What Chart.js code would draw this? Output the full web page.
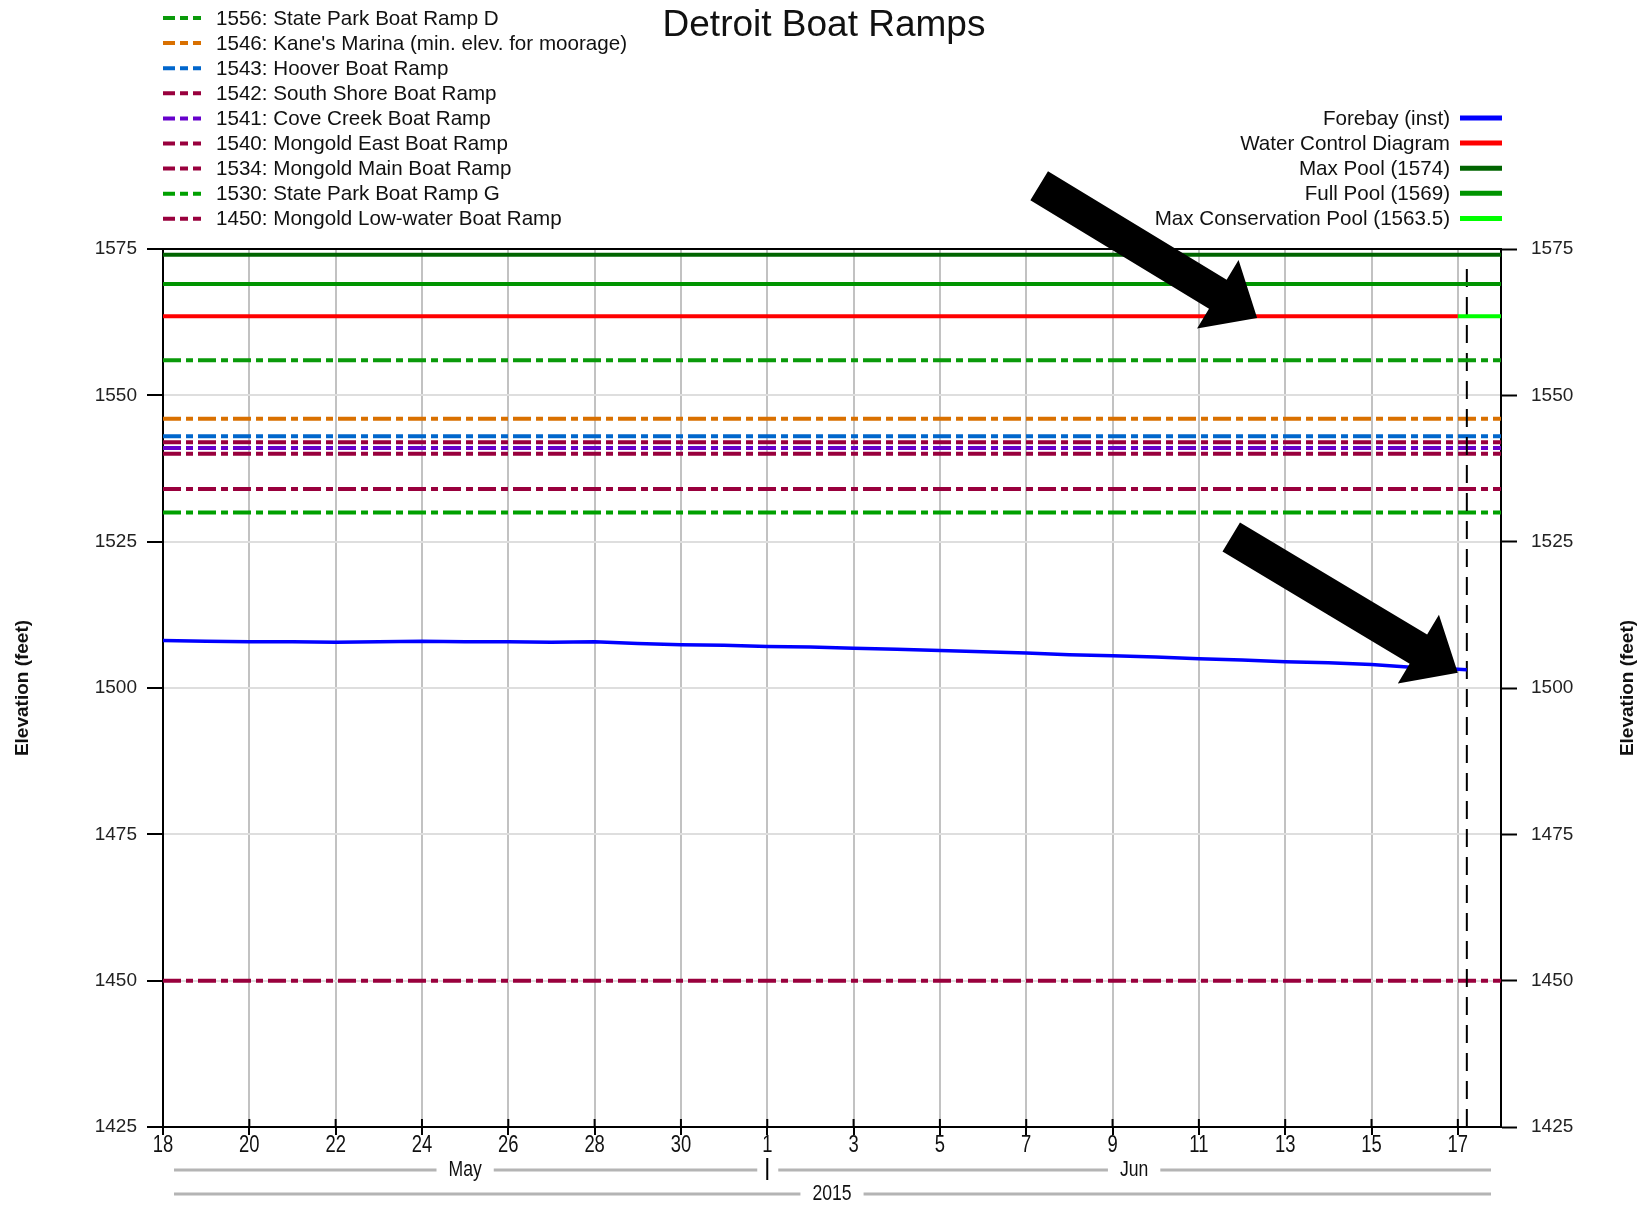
<!DOCTYPE html>
<html>
<head>
<meta charset="utf-8">
<title>Detroit Boat Ramps</title>
<script src="https://cdn.jsdelivr.net/npm/chart.js@4.4.0/dist/chart.umd.min.js"></script>
<style>
  body { margin: 0; background: #fff; }
</style>
</head>
<body>
<canvas id="chart" width="1649" height="1206"></canvas>
<script>
// ---- data ----
var startDate = '2015-05-18';
var endDate = '2015-06-18';
var nowDate = '2015-06-17T05:00';
var wcdChangeDate = '2015-06-17';

var forebayDates = ['2015-05-18','2015-05-19','2015-05-20','2015-05-21','2015-05-22','2015-05-23',
  '2015-05-24','2015-05-25','2015-05-26','2015-05-27','2015-05-28','2015-05-29','2015-05-30',
  '2015-05-31','2015-06-01','2015-06-02','2015-06-03','2015-06-04','2015-06-05','2015-06-06',
  '2015-06-07','2015-06-08','2015-06-09','2015-06-10','2015-06-11','2015-06-12','2015-06-13',
  '2015-06-14','2015-06-15','2015-06-16','2015-06-17','2015-06-17T05:00'];
var forebayValues = [1508.1,1508.0,1507.9,1507.9,1507.8,1507.9,1508.0,1507.9,1507.9,1507.8,
  1507.9,1507.6,1507.4,1507.3,1507.1,1507.0,1506.8,1506.6,1506.4,1506.2,1506.0,1505.7,1505.5,
  1505.3,1505.0,1504.8,1504.5,1504.3,1504.0,1503.5,1503.2,1503.1];

var rampLevels = [1556, 1546, 1543, 1542, 1541, 1540, 1534, 1530, 1450];
var rampNames = ['State Park Boat Ramp D', "Kane's Marina (min. elev. for moorage)", 'Hoover Boat Ramp',
  'South Shore Boat Ramp', 'Cove Creek Boat Ramp', 'Mongold East Boat Ramp', 'Mongold Main Boat Ramp',
  'State Park Boat Ramp G', 'Mongold Low-water Boat Ramp'];
var rampColors = ['#0a9a0a', '#d97000', '#0066cc', '#99003d', '#6600cc', '#99003d', '#99003d', '#00a000', '#99003d'];

var maxPool = 1574;
var fullPool = 1569;
var maxConservation = 1563.5;

var yTicks = [1425, 1450, 1475, 1500, 1525, 1550, 1575];

// ---- helpers ----
var DAY = 86400000;
var t0 = Date.parse(startDate + 'T00:00Z');
function dayOf(s) {
  if (s.length === 10) s += 'T00:00';
  return (Date.parse(s + 'Z') - t0) / DAY;
}
var xMax = dayOf(endDate);
var nowX = dayOf(nowDate);
var wcdX = dayOf(wcdChangeDate);

function flat(level, a, b) {
  return [{ x: a, y: level }, { x: b, y: level }];
}

var datasets = [];
for (var i = rampLevels.length - 1; i >= 0; i--) {
  datasets.push({
    label: rampLevels[i] + ': ' + rampNames[i],
    group: 'ramp', order: i,
    data: flat(rampLevels[i], 0, xMax),
    borderColor: rampColors[i], borderWidth: 4, borderDash: [18, 5, 7, 5]
  });
}
datasets.push({ label: 'Max Pool (1574)', group: 'pool', data: flat(maxPool, 0, xMax), borderColor: '#006400', borderWidth: 4 });
datasets.push({ label: 'Full Pool (1569)', group: 'pool', data: flat(fullPool, 0, xMax), borderColor: '#009400', borderWidth: 4 });
datasets.push({ label: 'Water Control Diagram', group: 'pool', data: flat(maxConservation, 0, wcdX), borderColor: '#ff0000', borderWidth: 4 });
datasets.push({ label: 'Max Conservation Pool (1563.5)', group: 'pool', data: flat(maxConservation, wcdX, xMax), borderColor: '#00ff00', borderWidth: 4 });
datasets.push({
  label: 'Forebay (inst)', group: 'pool',
  data: forebayDates.map(function (d, k) { return { x: dayOf(d), y: forebayValues[k] }; }),
  borderColor: '#0000ff', borderWidth: 3.5
});
datasets.push({
  label: 'now', group: 'none',
  data: [{ x: nowX, y: yTicks[0] }, { x: nowX, y: yTicks[yTicks.length - 1] - 2 }],
  borderColor: '#000', borderWidth: 2, borderDash: [18, 10]
});

var rightLegend = ['Forebay (inst)', 'Water Control Diagram', 'Max Pool (1574)', 'Full Pool (1569)', 'Max Conservation Pool (1563.5)'];

// arrows, in data units: [tailX, tailY, tipX, tipY]
var arrows = [[20.3, 1585.8, 25.35, 1563.2], [24.75, 1525.8, 30.0, 1502.6]];

var FONT = '"Liberation Sans", Arial, sans-serif';

function drawArrow(ctx, x1, y1, x2, y2) {
  var dx = x2 - x1, dy = y2 - y1, len = Math.hypot(dx, dy);
  var ux = dx / len, uy = dy / len, nx = -uy, ny = ux;
  var sw = 17, hw = 40, hl = 46;
  var bx = x2 - ux * hl, by = y2 - uy * hl;
  ctx.beginPath();
  ctx.moveTo(x1 + nx * sw, y1 + ny * sw);
  ctx.lineTo(bx + nx * sw, by + ny * sw);
  ctx.lineTo(bx + nx * hw, by + ny * hw);
  ctx.lineTo(x2, y2);
  ctx.lineTo(bx - nx * hw, by - ny * hw);
  ctx.lineTo(bx - nx * sw, by - ny * sw);
  ctx.lineTo(x1 - nx * sw, y1 - ny * sw);
  ctx.closePath();
  ctx.fillStyle = '#000';
  ctx.fill();
}

// narrow text: regular font squeezed horizontally
function narrowText(ctx, text, x, y) {
  ctx.save();
  ctx.translate(x, y);
  ctx.scale(0.8, 1);
  ctx.fillText(text, 0, 0);
  ctx.restore();
}

var decor = {
  id: 'decor',
  beforeDraw: function (chart) {
    var ctx = chart.ctx;
    ctx.save();
    ctx.fillStyle = '#fff';
    ctx.fillRect(0, 0, chart.width, chart.height);
    ctx.restore();
  },
  afterDraw: function (chart) {
    var ctx = chart.ctx, a = chart.chartArea;
    var xs = chart.scales.x, ys = chart.scales.y;
    ctx.save();

    // top frame
    ctx.strokeStyle = '#000';
    ctx.lineWidth = 2;
    ctx.beginPath();
    ctx.moveTo(a.left, a.top);
    ctx.lineTo(a.right, a.top);
    ctx.stroke();

    // x ticks crossing the axis + narrow labels
    ctx.fillStyle = '#111';
    ctx.font = '23px ' + FONT;
    ctx.textAlign = 'center';
    ctx.textBaseline = 'middle';
    xs.ticks.forEach(function (t) {
      var px = xs.getPixelForValue(t.value);
      ctx.beginPath(); ctx.moveTo(px, a.bottom - 8); ctx.lineTo(px, a.bottom); ctx.stroke();
      narrowText(ctx, String(new Date(t0 + t.value * DAY).getUTCDate()), px, 1146);
    });

    // title
    ctx.fillStyle = '#111';
    ctx.font = '37px ' + FONT;
    ctx.textAlign = 'center';
    ctx.fillText('Detroit Boat Ramps', 824, 26);

    // left legend (ramps)
    ctx.font = '20.6px ' + FONT;
    ctx.textAlign = 'left';
    var ds = chart.data.datasets;
    for (var i = 0; i < rampLevels.length; i++) {
      var d = ds.filter(function (q) { return q.group === 'ramp' && q.order === i; })[0];
      var y = 18 + i * 25.1;
      ctx.strokeStyle = d.borderColor;
      ctx.lineWidth = 4;
      ctx.setLineDash([12, 5, 8, 5, 8]);
      ctx.beginPath(); ctx.moveTo(163, y); ctx.lineTo(205, y); ctx.stroke();
      ctx.setLineDash([]);
      ctx.fillStyle = '#111';
      ctx.fillText(d.label, 216, y + 1);
    }

    // right legend
    ctx.textAlign = 'right';
    rightLegend.forEach(function (lab, k) {
      var d = ds.filter(function (q) { return q.label === lab; })[0];
      var y = 118 + k * 25.1;
      ctx.strokeStyle = d.borderColor;
      ctx.lineWidth = 5;
      ctx.beginPath(); ctx.moveTo(1460, y); ctx.lineTo(1502, y); ctx.stroke();
      ctx.fillStyle = '#111';
      ctx.fillText(lab, 1450, y + 1);
    });

    // axis titles
    ctx.font = 'bold 19px ' + FONT;
    ctx.textAlign = 'center';
    [23, 1628].forEach(function (x) {
      ctx.save();
      ctx.translate(x, 688);
      ctx.rotate(-Math.PI / 2);
      ctx.fillText('Elevation (feet)', 0, 0);
      ctx.restore();
    });

    // month and year rows
    ctx.font = '22px ' + FONT;
    function band(x1, x2, y, text) {
      var cx = (x1 + x2) / 2;
      var w = ctx.measureText(text).width * 0.8;
      ctx.fillStyle = '#111';
      narrowText(ctx, text, cx, y);
      ctx.strokeStyle = '#b4b4b4';
      ctx.lineWidth = 3;
      ctx.beginPath();
      ctx.moveTo(x1 + 11, y); ctx.lineTo(cx - w / 2 - 12, y);
      ctx.moveTo(cx + w / 2 + 12, y); ctx.lineTo(x2 - 10, y);
      ctx.stroke();
    }
    var jun1 = xs.getPixelForValue(dayOf('2015-06-01'));
    band(a.left, jun1, 1170, 'May');
    band(jun1, a.right, 1170, 'Jun');
    band(a.left, a.right, 1194, '2015');
    ctx.strokeStyle = '#000';
    ctx.lineWidth = 2;
    ctx.beginPath(); ctx.moveTo(jun1, 1158); ctx.lineTo(jun1, 1180); ctx.stroke();

    // arrows
    arrows.forEach(function (r) {
      drawArrow(ctx, xs.getPixelForValue(r[0]), ys.getPixelForValue(r[1]),
        xs.getPixelForValue(r[2]), ys.getPixelForValue(r[3]));
    });
    ctx.restore();
  }
};

var yCommon = {
  type: 'linear',
  min: yTicks[0], max: yTicks[yTicks.length - 1],
  afterBuildTicks: function (s) { s.ticks = yTicks.map(function (v) { return { value: v }; }); },
  border: { display: true, color: '#000', width: 2 }
};

new Chart(document.getElementById('chart'), {
  type: 'line',
  data: { datasets: datasets },
  plugins: [decor],
  options: {
    responsive: false,
    animation: false,
    devicePixelRatio: 1,
    layout: { padding: { top: 249, left: 0, right: 0, bottom: 0 } },
    elements: { point: { radius: 0 }, line: { tension: 0, borderCapStyle: 'butt' } },
    plugins: { legend: { display: false }, tooltip: { enabled: false }, title: { display: false } },
    scales: {
      x: {
        type: 'linear', min: 0, max: xMax,
        afterBuildTicks: function (s) {
          var t = [];
          for (var v = 0; v < xMax; v += 2) t.push({ value: v });
          s.ticks = t;
        },
        afterFit: function (s) { s.height = 79; },
        grid: { color: '#c2c2c2', lineWidth: 2, tickColor: '#000', tickWidth: 2, tickLength: 8 },
        border: { display: true, color: '#000', width: 2 },
        ticks: { display: false }
      },
      y: Object.assign({}, yCommon, {
        position: 'left',
        afterFit: function (s) { s.width = 163; },
        grid: { color: '#dedede', lineWidth: 2, tickColor: '#000', tickWidth: 2, tickLength: 16 },
        ticks: { padding: 10, color: '#222', font: { family: FONT, size: 19 }, callback: function (v) { return String(v); } }
      }),
      y2: Object.assign({}, yCommon, {
        position: 'right',
        afterFit: function (s) { s.width = 148; },
        grid: { drawOnChartArea: false, tickColor: '#000', tickWidth: 2, tickLength: 16 },
        ticks: { padding: 14, color: '#222', font: { family: FONT, size: 19 }, callback: function (v) { return String(v); } }
      })
    }
  }
});
</script>
</body>
</html>
